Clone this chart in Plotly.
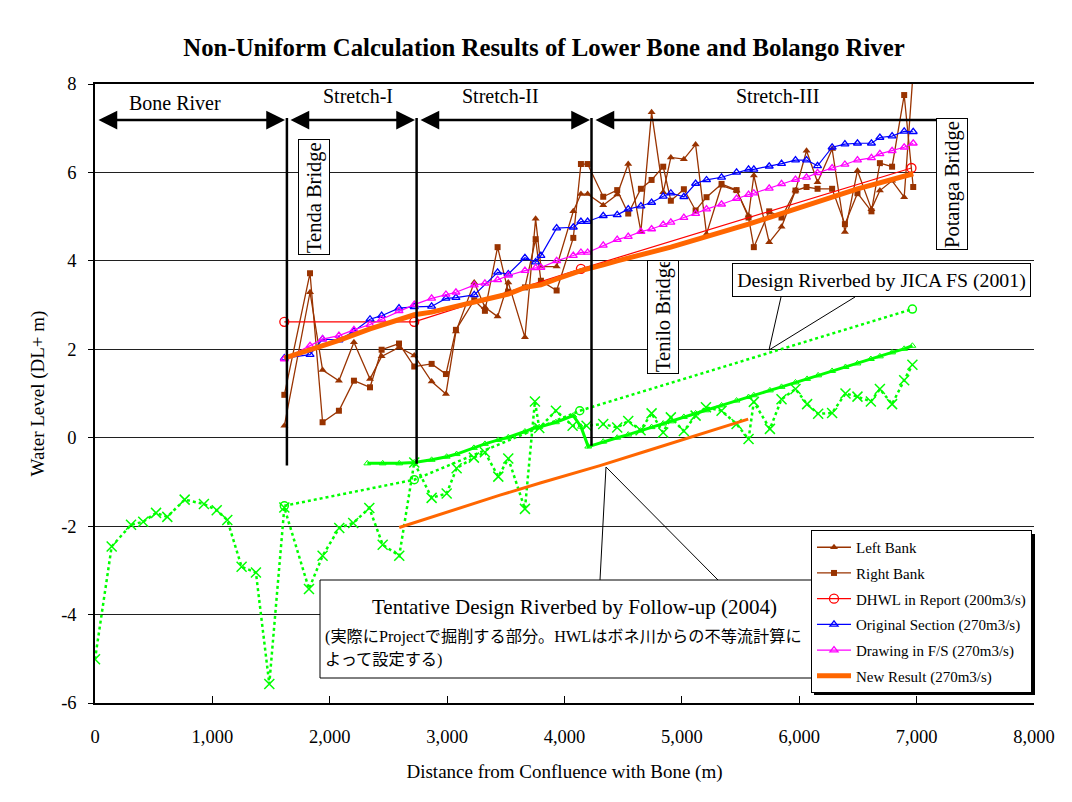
import plotly.graph_objects as go

# ------------------------------------------------------------------ data
bank_x = [1613, 1832, 1939, 2078, 2206, 2343, 2442, 2590, 2720, 2868, 2990, 3075, 3231, 3322, 3430,
          3521, 3663, 3754, 3799, 3933, 4075, 4140, 4197, 4330, 4449, 4543, 4651, 4742, 4841, 4906,
          5017, 5117, 5210, 5338, 5466, 5568, 5613, 5744, 5849, 5968, 6062, 6156, 6280, 6389, 6496,
          6615, 6687, 6791, 6894, 6971]
left_bank = [0.27, 3.29, 1.53, 1.29, 2.16, 1.33, 1.84, 2.04, 1.86, 1.27, 0.99, 2.40, 3.51, 2.95, 2.74,
             3.51, 2.27, 4.95, 3.87, 3.87, 5.12, 5.51, 5.51, 5.26, 5.50, 6.19, 4.66, 7.36, 5.55, 6.34,
             6.30, 6.63, 4.61, 5.70, 5.59, 5.02, 5.93, 4.42, 4.77, 5.59, 6.49, 5.78, 6.53, 4.65, 6.04,
             5.17, 5.59, 5.81, 5.44, 8.30]
right_bank = [0.97, 3.72, 0.35, 0.61, 1.29, 1.14, 1.99, 2.13, 1.61, 1.67, 1.44, 2.44, 3.11, 2.87, 4.31,
              3.30, 3.40, 4.49, 3.55, 3.33, 4.52, 6.19, 6.19, 5.45, 5.60, 5.07, 5.63, 5.83, 6.13, 5.36,
              5.62, 5.14, 5.44, 5.74, 5.60, 4.98, 4.31, 5.12, 4.98, 5.59, 5.67, 5.63, 5.63, 4.83, 5.53,
              5.12, 6.21, 6.13, 7.75, 5.67]
drawing_fs = [1.78, 2.08, 2.23, 2.31, 2.44, 2.56, 2.68, 2.87, 3.01, 3.15, 3.24, 3.29, 3.45, 3.49, 3.57,
              3.67, 3.78, 3.84, 3.85, 4.00, 4.12, 4.19, 4.19, 4.35, 4.48, 4.55, 4.66, 4.72, 4.82, 4.87,
              4.98, 5.07, 5.17, 5.28, 5.41, 5.50, 5.53, 5.64, 5.74, 5.84, 5.89, 5.99, 6.10, 6.18, 6.28,
              6.33, 6.42, 6.49, 6.57, 6.66]

section_x = [1613, 1832, 1939, 2078, 2206, 2343, 2442, 2590, 2720, 2868, 2990, 3075, 3231, 3430, 3521,
             3663, 3754, 3799, 3933, 4075, 4140, 4197, 4330, 4449, 4543, 4651, 4742, 4841, 4906, 5017,
             5117, 5210, 5338, 5466, 5568, 5613, 5744, 5849, 5968, 6062, 6156, 6280, 6389, 6496, 6615,
             6687, 6791, 6894, 6971]
original_section = [1.80, 1.88, 2.23, 2.21, 2.41, 2.68, 2.76, 2.93, 2.96, 2.97, 3.15, 3.17, 3.23, 3.74, 3.70,
                    4.07, 3.97, 4.12, 4.74, 4.76, 4.89, 4.89, 5.02, 5.04, 5.17, 5.24, 5.32, 5.46, 5.53, 5.45,
                    5.75, 5.83, 5.89, 6.00, 6.07, 6.07, 6.14, 6.20, 6.28, 6.28, 6.15, 6.57, 6.64, 6.66, 6.66,
                    6.79, 6.82, 6.93, 6.92]

dhwl_x = [1613, 2720, 4140, 6956]
dhwl_y = [2.62, 2.62, 3.82, 6.10]

new_x = [1613, 1832, 2078, 2343, 2590, 2720, 2868, 3231, 3521, 3663, 3799, 3933, 4140, 4330, 4449,
         4906, 5568, 6280, 6496, 6971]
new_y = [1.80, 1.98, 2.20, 2.46, 2.68, 2.78, 2.84, 3.06, 3.25, 3.40, 3.46, 3.59, 3.78, 3.91, 4.00,
         4.31, 4.83, 5.44, 5.63, 5.97]

riverbed_x = [0, 142, 307, 411, 520, 616, 764, 928, 1037, 1127, 1249, 1371, 1485, 1613, 1823, 1939,
              2081, 2200, 2337, 2451, 2592, 2720, 2868, 2996, 3081, 3228, 3322, 3436, 3521, 3663, 3748,
              3785, 3927, 4069, 4188, 4330, 4449, 4543, 4648, 4742, 4841, 4906, 5017, 5117, 5205, 5338,
              5466, 5568, 5613, 5750, 5849, 5968, 6067, 6161, 6280, 6394, 6496, 6610, 6687, 6791, 6894,
              6964]
riverbed_y = [-5.01, -2.46, -1.97, -1.90, -1.70, -1.79, -1.40, -1.50, -1.64, -1.86, -2.92, -3.05, -5.57,
              -1.58, -3.42, -2.67, -2.04, -1.93, -1.59, -2.42, -2.67, -0.56, -1.36, -1.26, -0.69, -0.45,
              -0.33, -0.88, -0.47, -1.61, 0.82, 0.22, 0.61, 0.27, 0.27, 0.31, 0.23, 0.38, 0.17, 0.55,
              0.12, 0.46, 0.15, 0.50, 0.69, 0.61, 0.31, -0.03, 0.81, 0.20, 0.87, 1.10, 0.76, 0.54, 0.56,
              1.00, 0.93, 0.82, 1.10, 0.76, 1.30, 1.65]

jica_x = [1613, 2720, 4130, 6964]
jica_y = [-1.54, -0.95, 0.61, 2.91]

followup_x = [2320, 2451, 2592, 2720, 2868, 2996, 3081, 3228, 3322, 3436, 3521, 3663, 3748, 3785, 3927,
              4075, 4140, 4202, 4330, 4449, 4543, 4648, 4742, 4841, 4906, 5017, 5117, 5205, 5338, 5466,
              5568, 5613, 5750, 5849, 5968, 6067, 6161, 6280, 6394, 6496, 6610, 6687, 6791, 6894, 6964]
followup_y = [-0.58, -0.58, -0.58, -0.56, -0.50, -0.43, -0.37, -0.23, -0.14, -0.05, 0.01, 0.14, 0.23, 0.24,
              0.35, 0.50, 0.25, -0.20, -0.09, 0.00, 0.07, 0.16, 0.24, 0.32, 0.37, 0.47, 0.55, 0.62, 0.73,
              0.84, 0.92, 0.96, 1.07, 1.15, 1.25, 1.33, 1.41, 1.51, 1.60, 1.68, 1.78, 1.84, 1.93, 2.01, 2.08]

tentative_x = [2592, 2860, 3081, 3450, 3800, 4302, 4700, 5011, 5300, 5565]
tentative_y = [-2.03, -1.80, -1.62, -1.30, -1.02, -0.63, -0.30, -0.04, 0.20, 0.42]

x_ticks = [0, 1000, 2000, 3000, 4000, 5000, 6000, 7000, 8000]
x_tick_labels = ["0", "1,000", "2,000", "3,000", "4,000", "5,000", "6,000", "7,000", "8,000"]
y_ticks = [-6, -4, -2, 0, 2, 4, 6, 8]
y_tick_labels = ["-6", "-4", "-2", "0", "2", "4", "6", "8"]

section_names = ["Bone River", "Stretch-I", "Stretch-II", "Stretch-III"]
boundary_x = [1635, 2740, 4230]
boundary_bottom = [-0.63, -0.59, -0.18]

# ------------------------------------------------------------------ layout helpers (pixel -> axis)
L, R, T, B = 95, 1034, 84, 703
def ax_x(p):
    return (p - L) / (R - L) * 8000
def ax_y(p):
    return 8 - (p - T) / (B - T) * 14
def pap_x(p):
    return (p - L) / (R - L)
def pap_y(p):
    return (B - p) / (B - T)

SERIF = "Liberation Serif, Times New Roman, serif"
CJK = "Liberation Serif, Noto Sans CJK JP, serif"
BROWN = "#993300"
GREEN = "#00FF00"
ORANGE = "#FF6600"

fig = go.Figure()

# green (unlisted) series
fig.add_trace(go.Scatter(x=riverbed_x, y=riverbed_y, mode="lines+markers", showlegend=False,
                         line=dict(color=GREEN, width=2.5, dash="dot"),
                         marker=dict(symbol="x-thin", size=10, line=dict(color=GREEN, width=1.5))))
fig.add_trace(go.Scatter(x=jica_x, y=jica_y, mode="lines+markers", showlegend=False,
                         line=dict(color=GREEN, width=2.5, dash="dot"),
                         marker=dict(symbol="circle-open", size=8, color=GREEN, line=dict(width=1.5))))
fig.add_trace(go.Scatter(x=followup_x, y=followup_y, mode="lines+markers", showlegend=False,
                         line=dict(color=GREEN, width=3),
                         marker=dict(symbol="triangle-up-open", size=6, color=GREEN, line=dict(width=1))))
fig.add_trace(go.Scatter(x=tentative_x, y=tentative_y, mode="lines", showlegend=False,
                         line=dict(color=ORANGE, width=3)))

# legend series
fig.add_trace(go.Scatter(x=bank_x, y=left_bank, mode="lines+markers", name="Left Bank", legendgroup="a",
                         line=dict(color=BROWN, width=1.3),
                         marker=dict(symbol="triangle-up", size=7, color=BROWN)))
fig.add_trace(go.Scatter(x=bank_x, y=right_bank, mode="lines+markers", name="Right Bank", legendgroup="b",
                         line=dict(color=BROWN, width=1.3),
                         marker=dict(symbol="square", size=6, color=BROWN)))
fig.add_trace(go.Scatter(x=dhwl_x, y=dhwl_y, mode="lines+markers", name="DHWL in Report (200m3/s)",
                         legendgroup="c", line=dict(color="#FF0000", width=1.2),
                         marker=dict(symbol="circle-open", size=9, color="#FF0000", line=dict(width=1.3))))
fig.add_trace(go.Scatter(x=section_x, y=original_section, mode="lines+markers",
                         name="Original Section (270m3/s)", legendgroup="d",
                         line=dict(color="#0000FF", width=1.2),
                         marker=dict(symbol="triangle-up-open", size=7, color="#0000FF", line=dict(width=1.3))))
fig.add_trace(go.Scatter(x=bank_x, y=drawing_fs, mode="lines+markers",
                         name="Drawing in F/S (270m3/s)", legendgroup="e",
                         line=dict(color="#FF00FF", width=1.2),
                         marker=dict(symbol="triangle-up-open", size=7, color="#FF00FF", line=dict(width=1.3))))
fig.add_trace(go.Scatter(x=new_x, y=new_y, mode="lines", name="New Result (270m3/s)", legendgroup="f",
                         line=dict(color=ORANGE, width=5)))

shapes = []
# stretch boundaries
for bx, bb in zip(boundary_x, boundary_bottom):
    shapes.append(dict(type="line", xref="x", yref="y", x0=bx, x1=bx, y0=ax_y(118), y1=bb,
                       line=dict(color="black", width=2.5), layer="above"))
# callout lines
shapes.append(dict(type="path", xref="x", yref="y",
                   path=f"M {ax_x(781)} {ax_y(297)} L {ax_x(769)} {ax_y(350)} L {ax_x(855)} {ax_y(297)}",
                   line=dict(color="black", width=1), layer="above"))
shapes.append(dict(type="path", xref="x", yref="y",
                   path=f"M {ax_x(600)} {ax_y(580)} L {ax_x(606)} {ax_y(467)} L {ax_x(718)} {ax_y(580)}",
                   line=dict(color="black", width=1), layer="above"))
# Tentative box
shapes.append(dict(type="rect", xref="paper", yref="paper", x0=pap_x(320), x1=pap_x(828),
                   y0=pap_y(678), y1=pap_y(580), line=dict(color="black", width=1),
                   fillcolor="white", layer="above"))
# legend shadow
shapes.append(dict(type="rect", xref="paper", yref="paper", x0=pap_x(814), x1=pap_x(1035),
                   y0=pap_y(695), y1=pap_y(534), line=dict(width=0), fillcolor="black", layer="above"))

ann = []
# arrows
arrow_spans = [(ax_x(97), ax_x(285), "end+start"), (ax_x(289), ax_x(415), "end+start"),
               (ax_x(419), ax_x(590), "end+start"), (ax_x(594), ax_x(945), "start")]
ay = ax_y(120)
for x0, x1, side in arrow_spans:
    ann.append(dict(x=x1, y=ay, ax=x0, ay=ay, xref="x", yref="y", axref="x", ayref="y", text="",
                    showarrow=True, arrowhead=2, startarrowhead=2, arrowside=side, arrowsize=1.5,
                    startarrowsize=1.5, arrowwidth=2.5, arrowcolor="black", standoff=0, startstandoff=0))
# section labels
for name, (px, py) in zip(section_names, [(175, 103), (358, 96), (500, 96), (777, 96)]):
    ann.append(dict(x=pap_x(px), y=pap_y(py), xref="paper", yref="paper", text=name, showarrow=False,
                    xanchor="center", yanchor="middle",
                    font=dict(family=SERIF, size=20, color="black")))
# bridge labels
for text, cx, cy, length in [("Tenda Bridge", 314, 197, 112), ("Tenilo Bridge", 663, 317, 110),
                             ("Potanga Bridge", 952, 184, 128)]:
    ann.append(dict(x=pap_x(cx), y=pap_y(cy), xref="paper", yref="paper", text=text, showarrow=False,
                    xanchor="center", yanchor="middle",
                    textangle=-90, width=length, height=28, align="left",
                    bordercolor="black", borderwidth=1, borderpad=1, bgcolor="white",
                    font=dict(family=SERIF, size=20.5, color="black")))
# JICA callout box
ann.append(dict(x=pap_x(881), y=pap_y(280), xref="paper", yref="paper", xanchor="center", yanchor="middle",
                text="Design Riverbed by JICA FS (2001)", showarrow=False, width=295, height=30,
                bordercolor="black", borderwidth=1, borderpad=1, bgcolor="white",
                font=dict(family=SERIF, size=19.8, color="black")))
# Tentative text
ann.append(dict(x=pap_x(574), y=pap_y(607), xref="paper", yref="paper", xanchor="center", yanchor="middle",
                text="Tentative Design Riverbed by Follow-up (2004)", showarrow=False,
                font=dict(family=SERIF, size=21, color="black")))
ann.append(dict(x=pap_x(323), y=pap_y(636), xref="paper", yref="paper", xanchor="left", yanchor="middle",
                text="(実際にProjectで掘削する部分。HWLはボネ川からの不等流計算に", showarrow=False,
                font=dict(family=CJK, size=16.2, color="black")))
ann.append(dict(x=pap_x(323), y=pap_y(660), xref="paper", yref="paper", xanchor="left", yanchor="middle",
                text="よって設定する)", showarrow=False,
                font=dict(family=CJK, size=16.2, color="black")))

fig.update_layout(
    width=1072, height=802,
    margin=dict(l=L, r=1072 - R, t=T, b=802 - B, pad=0),
    paper_bgcolor="white", plot_bgcolor="white",
    title=dict(text="<b>Non-Uniform Calculation Results of Lower Bone and Bolango River</b>",
               x=544 / 1072, xref="container", xanchor="center",
               y=1 - 47 / 802, yref="container", yanchor="middle",
               font=dict(family=SERIF, size=24.8, color="black")),
    font=dict(family=SERIF, color="black"),
    shapes=shapes, annotations=ann,
    showlegend=True,
    legend=dict(x=pap_x(811), y=pap_y(530), xanchor="left", yanchor="top",
                bgcolor="white", bordercolor="black", borderwidth=1,
                font=dict(family=SERIF, size=15, color="black"),
                traceorder="grouped", tracegroupgap=3.2, itemwidth=34),
)
fig.update_xaxes(range=[0, 8000], tickvals=x_ticks, ticktext=x_tick_labels,
                 ticks="inside", ticklen=7, tickcolor="black", tickwidth=1,
                 showline=True, linecolor="black", linewidth=1.5, mirror=True,
                 showgrid=False, zeroline=False, ticklabelstandoff=16,
                 tickfont=dict(family=SERIF, size=18.5, color="black"),
                 title=dict(text="Distance from Confluence with Bone (m)", standoff=19,
                            font=dict(family=SERIF, size=19, color="black")))
fig.update_yaxes(range=[-6, 8], tickvals=y_ticks, ticktext=y_tick_labels,
                 ticks="outside", ticklen=5, tickcolor="black", tickwidth=1,
                 showline=True, linecolor="black", linewidth=1.5,
                 showgrid=True, gridcolor="#202020", gridwidth=1, zeroline=False,
                 ticklabelstandoff=8,
                 tickfont=dict(family=SERIF, size=18.5, color="black"),
                 title=dict(text="Water Level (DL+ m)", standoff=11,
                            font=dict(family=SERIF, size=19, color="black")))

fig.write_html("out.html")
